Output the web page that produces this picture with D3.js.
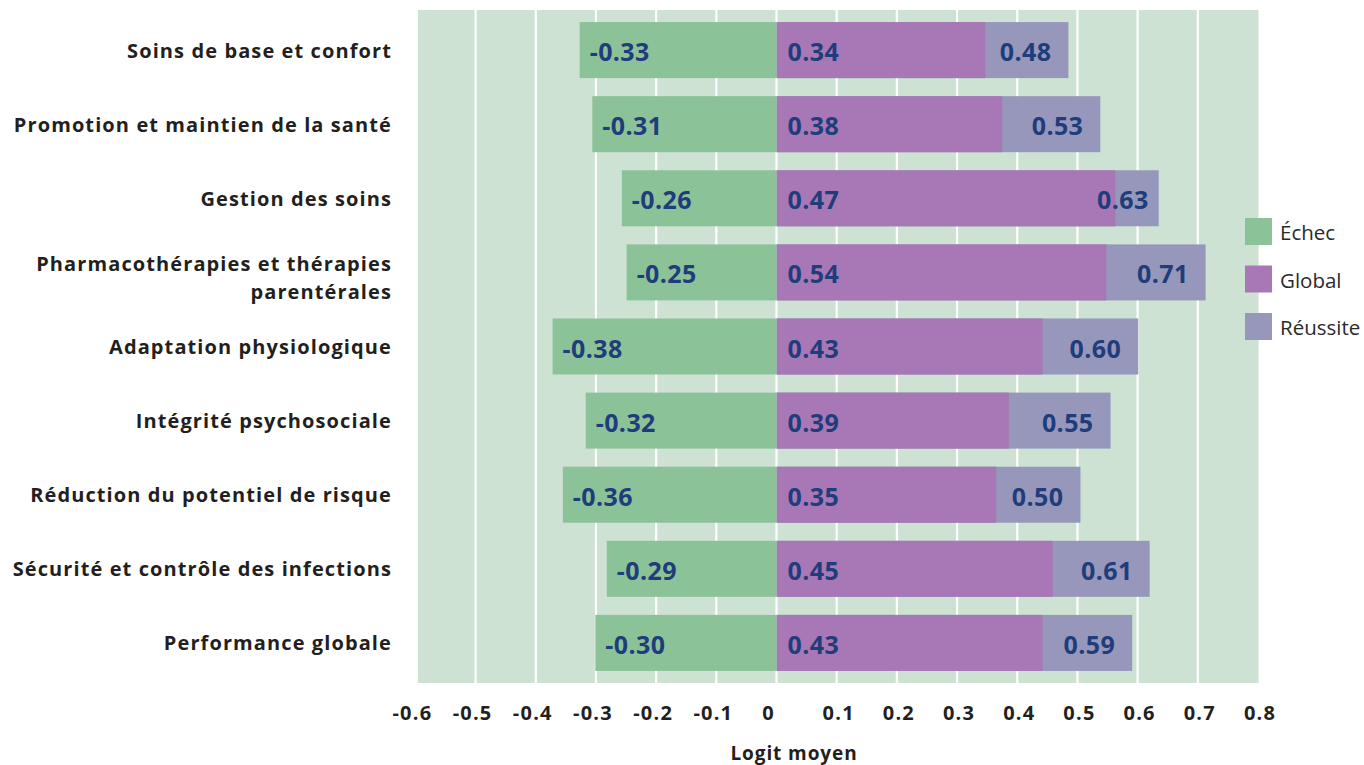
<!DOCTYPE html>
<html>
<head>
<meta charset="utf-8">
<script src="https://cdn.jsdelivr.net/npm/d3@7/dist/d3.min.js"></script>
<style>
  html, body { margin: 0; padding: 0; background: #ffffff; }
  svg { display: block; }
  text { font-family: "Open Sans", "DejaVu Sans", sans-serif; }
</style>
</head>
<body>
<svg id="chart" width="1364" height="765"></svg>
<script>
// ---- DATA ----
const categories = [
  "Soins de base et confort",
  "Promotion et maintien de la santé",
  "Gestion des soins",
  "Pharmacothérapies et thérapies|parentérales",
  "Adaptation physiologique",
  "Intégrité psychosociale",
  "Réduction du potentiel de risque",
  "Sécurité et contrôle des infections",
  "Performance globale"
];
// bar lengths as drawn in the picture
const echecValues    = [-0.327, -0.306, -0.257, -0.249, -0.372, -0.317, -0.355, -0.282, -0.301];
const globalValues   = [0.347, 0.375, 0.563, 0.548, 0.442, 0.386, 0.365, 0.459, 0.442];
const reussiteValues = [0.485, 0.538, 0.635, 0.713, 0.601, 0.555, 0.505, 0.620, 0.591];
// printed value labels
const echecLabels    = ["-0.33", "-0.31", "-0.26", "-0.25", "-0.38", "-0.32", "-0.36", "-0.29", "-0.30"];
const globalLabels   = ["0.34", "0.38", "0.47", "0.54", "0.43", "0.39", "0.35", "0.45", "0.43"];
const reussiteLabels = ["0.48", "0.53", "0.63", "0.71", "0.60", "0.55", "0.50", "0.61", "0.59"];
const tickValues = [-0.6, -0.5, -0.4, -0.3, -0.2, -0.1, 0, 0.1, 0.2, 0.3, 0.4, 0.5, 0.6, 0.7, 0.8];
const tickLabels = ["-0.6", "-0.5", "-0.4", "-0.3", "-0.2", "-0.1", "0", "0.1", "0.2", "0.3", "0.4", "0.5", "0.6", "0.7", "0.8"];
const seriesNames = ["Échec", "Global", "Réussite"];
const axisTitle = "Logit moyen";

// ---- STYLE ----
const colors = { "Échec": "#8bc298", "Global": "#a778b5", "Réussite": "#9697bb" };
const bgColor = "#cde2d3";
const valueColor = "#1f3c7b";
const textColor = "#231f20";

const svg = d3.select("#chart");

const x = d3.scaleLinear().domain([-0.6, 0.8]).range([415.4, 1258]);
const y = d3.scaleBand().domain(categories).range([10, 683]).paddingInner(0.244).paddingOuter(0.163);

const rows = categories.map((c, i) => ({
  cat: c, e: echecValues[i], g: globalValues[i], r: reussiteValues[i],
  el: echecLabels[i], gl: globalLabels[i], rl: reussiteLabels[i]
}));

// background
svg.append("rect")
  .attr("x", x(-0.6) + 2.5).attr("y", 10)
  .attr("width", x(0.8) - x(-0.6) - 2).attr("height", 673)
  .attr("fill", bgColor);

// gridlines
svg.append("g").selectAll("line")
  .data(tickValues.filter(v => v > -0.6 && v < 0.8))
  .join("line")
  .attr("x1", d => x(d)).attr("x2", d => x(d))
  .attr("y1", 10).attr("y2", 683)
  .attr("stroke", "#ffffff").attr("stroke-width", 2.2);

const bars = svg.append("g");
// Réussite (behind)
bars.selectAll("rect.r").data(rows).join("rect").attr("class", "r")
  .attr("x", x(0)).attr("y", d => y(d.cat))
  .attr("width", d => x(d.r) - x(0)).attr("height", y.bandwidth())
  .attr("fill", colors["Réussite"]);
// Global
bars.selectAll("rect.g").data(rows).join("rect").attr("class", "g")
  .attr("x", x(0)).attr("y", d => y(d.cat))
  .attr("width", d => x(d.g) - x(0)).attr("height", y.bandwidth())
  .attr("fill", colors["Global"]);
// Échec
bars.selectAll("rect.e").data(rows).join("rect").attr("class", "e")
  .attr("x", d => x(d.e)).attr("y", d => y(d.cat))
  .attr("width", d => x(0) - x(d.e)).attr("height", y.bandwidth())
  .attr("fill", colors["Échec"]);

// value labels
const vl = svg.append("g")
  .attr("font-size", 25).attr("font-weight", 700).attr("fill", valueColor)
  .attr("letter-spacing", "0.4px")
  .attr("dominant-baseline", "central");
vl.selectAll("text.e").data(rows).join("text").attr("class", "e")
  .attr("x", d => x(d.e) + 10).attr("y", d => y(d.cat) + y.bandwidth() / 2 + 1)
  .text(d => d.el);
vl.selectAll("text.g").data(rows).join("text").attr("class", "g")
  .attr("x", x(0) + 11).attr("y", d => y(d.cat) + y.bandwidth() / 2 + 1)
  .text(d => d.gl);
vl.selectAll("text.r").data(rows).join("text").attr("class", "r")
  .attr("text-anchor", "end")
  .attr("x", d => (x(d.r) - x(d.g) < 60) ? x(d.r) - 10 : x(d.r) - 17)
  .attr("y", d => y(d.cat) + y.bandwidth() / 2 + 1)
  .text(d => d.rl);

// category labels
const cl = svg.append("g")
  .attr("font-size", 20).attr("font-weight", 700).attr("fill", textColor)
  .attr("letter-spacing", "1.1px")
  .attr("text-anchor", "end");
rows.forEach(d => {
  const lines = d.cat.split("|");
  const cy = y(d.cat) + y.bandwidth() / 2;
  const lh = 27.5;
  const shift = lines.length > 1 ? 5 : 0;
  lines.forEach((ln, k) => {
    cl.append("text")
      .attr("dominant-baseline", "central")
      .attr("x", 392)
      .attr("y", cy + (k - (lines.length - 1) / 2) * lh + shift)
      .text(ln);
  });
});

// x axis tick labels
const xa = svg.append("g")
  .attr("font-size", 20).attr("font-weight", 700).attr("fill", textColor)
  .attr("text-anchor", "middle").attr("letter-spacing", "1.2px");
xa.selectAll("text").data(tickValues).join("text")
  .attr("x", (d, i) => x(d) + (d < 0 ? -3 : 0) + (d === 0 ? -8 : 0) + (d > 0 ? 2 : 0))
  .attr("y", 712)
  .attr("dominant-baseline", "central")
  .text((d, i) => tickLabels[i]);

// axis title
svg.append("text")
  .attr("x", 794).attr("y", 753)
  .attr("text-anchor", "middle").attr("dominant-baseline", "central")
  .attr("font-size", 19).attr("font-weight", 700).attr("fill", textColor)
  .attr("letter-spacing", "0.9px")
  .text(axisTitle);

// legend
const lg = svg.append("g");
seriesNames.forEach((s, i) => {
  const top = 218 + i * 47.5;
  lg.append("rect").attr("x", 1245).attr("y", top).attr("width", 27).attr("height", 27)
    .attr("fill", colors[s]);
  lg.append("text").attr("x", 1280).attr("y", top + 14)
    .attr("dominant-baseline", "central")
    .attr("font-size", 20.5).attr("fill", "#2a2a2a")
    .text(s);
});
</script>
</body>
</html>
